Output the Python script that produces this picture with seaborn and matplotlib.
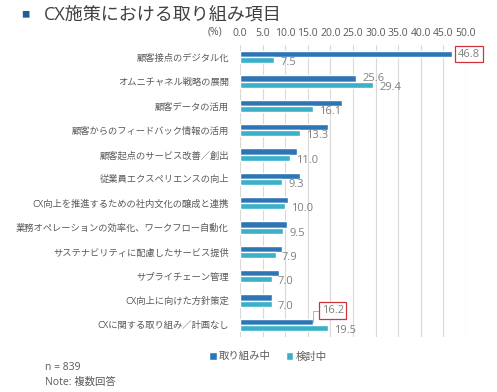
import matplotlib
matplotlib.use("Agg")
import matplotlib.pyplot as plt
import seaborn as sns
import pandas as pd

# data
items = [
    "顧客接点のデジタル化",
    "オムニチャネル戦略の展開",
    "顧客データの活用",
    "顧客からのフィードバック情報の活用",
    "顧客起点のサービス改善／創出",
    "従業員エクスペリエンスの向上",
    "CX向上を推進するための社内文化の醸成と連携",
    "業務オペレーションの効率化、ワークフロー自動化",
    "サステナビリティに配慮したサービス提供",
    "サプライチェーン管理",
    "CX向上に向けた方針策定",
    "CXに関する取り組み／計画なし",
]
doing = [46.8, 25.6, 22.5, 19.4, 12.5, 13.2, 10.7, 10.3, 9.3, 8.6, 7.1, 16.2]
planning = [7.5, 29.4, 16.1, 13.3, 11.0, 9.3, 10.0, 9.5, 7.9, 7.0, 7.0, 19.5]
series = ["取り組み中", "検討中"]
ticks = [0, 5, 10, 15, 20, 25, 30, 35, 40, 45, 50]

sns.set_theme(style="white")
plt.rcParams["font.family"] = ["Open Sans", "Noto Sans CJK JP", "DejaVu Sans"]

df = pd.DataFrame({
    "item": items * 2,
    "value": doing + planning,
    "series": [series[0]] * len(items) + [series[1]] * len(items),
})

dark = "#2e75b6"
light = "#3bb0c9"
txt = "#595959"

fig = plt.figure(figsize=(4.97, 3.92), dpi=100)
ax = fig.add_axes([240 / 497, 1 - 337 / 392, 226 / 497, 292 / 392])

sns.barplot(data=df, y="item", x="value", hue="series", hue_order=series,
            palette=[dark, light], width=0.5, orient="h", ax=ax,
            saturation=1, errorbar=None)

ax.set_xlim(0, 50)
ax.set_xticks(ticks)
ax.set_xticklabels([f"{t:.1f}" for t in ticks])
ax.xaxis.tick_top()
ax.tick_params(axis="x", length=0, pad=4, labelsize=7.5, labelcolor=txt)
ax.tick_params(axis="y", length=0, pad=8, labelsize=6.7, labelcolor=txt)
ax.set_xlabel("")
ax.set_ylabel("")
for s in ax.spines.values():
    s.set_visible(False)
ax.grid(axis="x", color="#d9d9d9", linewidth=0.8)
ax.set_axisbelow(True)

# value labels
c_dark, c_light = ax.containers[0], ax.containers[1]
for bar, v in zip(c_light, planning):
    y = bar.get_y() + bar.get_height() / 2
    ax.annotate(f"{v:.1f}", (v, y), xytext=(4.5, -2), textcoords="offset points",
                ha="left", va="center", fontsize=8, color="#7f7f7f")

# dark labels: plain one for row 2, boxed ones for row 1 and 12
b = c_dark[1]
ax.annotate(f"{doing[1]:.1f}", (doing[1], b.get_y() + b.get_height() / 2),
            xytext=(4.5, 0), textcoords="offset points", ha="left", va="center",
            fontsize=8, color="#7f7f7f")

box = dict(boxstyle="square,pad=0.25", facecolor="white", edgecolor="#d0343a", linewidth=0.9)
b = c_dark[0]
ax.annotate(f"{doing[0]:.1f}", (doing[0], b.get_y() + b.get_height() / 2),
            xytext=(4.5, 0), textcoords="offset points", ha="left", va="center",
            fontsize=8, color="#7f7f7f", bbox=box, annotation_clip=False)
b = c_dark[11]
ax.annotate(f"{doing[11]:.1f}", (doing[11], b.get_y() + b.get_height() / 2),
            xytext=(6, 8), textcoords="offset points", ha="left", va="center",
            fontsize=8, color="#7f7f7f", bbox=box,
            arrowprops=dict(arrowstyle="-", color="#a6a6a6", linewidth=0.6,
                            connectionstyle="angle,angleA=0,angleB=90,rad=0",
                            shrinkA=0, shrinkB=0))

handles, labels = ax.get_legend_handles_labels()
ax.get_legend().remove()
fig.legend(handles, labels, loc="center", bbox_to_anchor=(268 / 497, 1 - 357 / 392),
           ncol=2, frameon=False, fontsize=7.5, handlelength=0.7, handleheight=0.7,
           handletextpad=0.2, columnspacing=1.5, labelcolor=txt)

fig.text(45 / 497, 1 - 367 / 392, "n = 839", fontsize=7.5, color=txt, va="center")
fig.text(45 / 497, 1 - 382 / 392, "Note: 複数回答", fontsize=7.5, color=txt, va="center")
fig.text(208 / 497, 1 - 32 / 392, "(%)", fontsize=7.5, color=txt, va="center")

# title
fig.text(21 / 497, 1 - 16 / 392, "■", fontsize=6, color="#1f5c99", va="center")
fig.text(44 / 497, 1 - 15 / 392, "CX施策における取り組み項目", fontsize=13,
         color="#404040", va="center")

fig.savefig("out.png", dpi=100)
